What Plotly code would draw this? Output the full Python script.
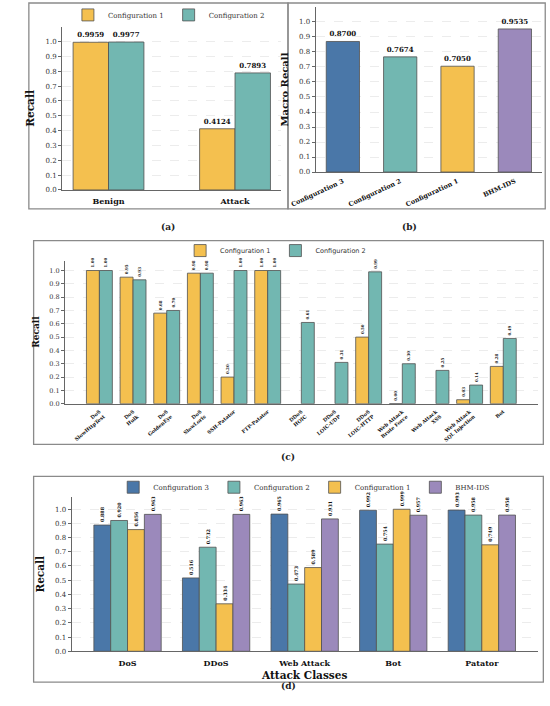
import plotly.graph_objects as go

# ---- data ----
a_classes = ["Benign", "Attack"]
a_cfg1 = [0.9959, 0.4124]
a_cfg2 = [0.9977, 0.7893]

b_models = ["Configuration 3", "Configuration 2", "Configuration 1", "BHM-IDS"]
b_macro = [0.8700, 0.7674, 0.7050, 0.9535]

c_classes = ["DoS<br>SlowHttpTest", "DoS<br>Hulk", "DoS<br>GoldenEye", "DoS<br>SlowLoris",
             "SSH-Patator", "FTP-Patator", "DDoS<br>HOIC", "DDoS<br>LOIC-UDP",
             "DDoS<br>LOIC-HTTP", "Web Attack<br>Brute Force", "Web Attack<br>XSS",
             "Web Attack<br>SQL Injection", "Bot"]
c_cfg1 = [1.00, 0.95, 0.68, 0.98, 0.20, 1.00, None, None, 0.50, 0.00, None, 0.03, 0.28]
c_cfg2 = [1.00, 0.93, 0.70, 0.98, 1.00, 1.00, 0.61, 0.31, 0.99, 0.30, 0.25, 0.14, 0.49]

d_classes = ["DoS", "DDoS", "Web Attack", "Bot", "Patator"]
d_cfg3 = [0.888, 0.516, 0.965, 0.992, 0.993]
d_cfg2 = [0.920, 0.732, 0.473, 0.754, 0.958]
d_cfg1 = [0.856, 0.334, 0.589, 0.999, 0.749]
d_bhm = [0.963, 0.963, 0.931, 0.957, 0.958]

y_ticks = [0.0, 0.1, 0.2, 0.3, 0.4, 0.5, 0.6, 0.7, 0.8, 0.9, 1.0]

COL3 = "#4a77a8"
COL2 = "#72b7b1"
COL1 = "#f4c04f"
COLB = "#9b89bb"
EDGE = "#505050"
SERIF = "DejaVu Serif"

W, H = 550, 706
def px(x): return x / W
def py(y): return 1 - y / H

fig = go.Figure()

def bars(x, y, name, color, xa, ya, width, offset, size, angle=0, legend=None, fmt="{:.4f}"):
    txt = ["" if v is None else "<b>" + fmt.format(v) + "</b>" for v in y]
    fig.add_trace(go.Bar(
        x=x, y=y, name=name, xaxis=xa, yaxis=ya, width=width, offset=offset,
        marker=dict(color=color, line=dict(color=EDGE, width=0.8)),
        text=txt, textposition="outside", textangle=angle, constraintext="none",
        cliponaxis=False, textfont=dict(family=SERIF, size=size, color="#111"),
        showlegend=legend is not None, legend=legend or "legend",
    ))

# (a)
bars(a_classes, a_cfg1, "Configuration 1", COL1, "x", "y", 0.28, -0.28, 7, legend="legend")
bars(a_classes, a_cfg2, "Configuration 2", COL2, "x", "y", 0.28, 0.0, 7, legend="legend")
# (b)
bars(b_models, b_macro, "macro", [COL3, COL2, COL1, COLB], "x2", "y2", 0.58, -0.29, 7)
# (c)
bars(c_classes, c_cfg1, "Configuration 1", COL1, "x3", "y3", 0.385, -0.385, 4, -90, "legend2", "{:.2f}")
bars(c_classes, c_cfg2, "Configuration 2", COL2, "x3", "y3", 0.385, 0.0, 4, -90, "legend2", "{:.2f}")
# (d)
dw = 0.19
for i, (vals, nm, col) in enumerate([(d_cfg3, "Configuration 3", COL3), (d_cfg2, "Configuration 2", COL2),
                                     (d_cfg1, "Configuration 1", COL1), (d_bhm, "BHM-IDS", COLB)]):
    bars(d_classes, vals, nm, col, "x4", "y4", dw, -2 * dw + i * dw, 4.8, -90, "legend3", "{:.3f}")

def xax(dom, rng, size, angle=0, standoff=2):
    return dict(domain=dom, range=rng, type="category", showline=True, linecolor="#666",
                linewidth=1.2, ticks="", showgrid=False, tickangle=angle, zeroline=False,
                ticklabelstandoff=standoff,
                tickfont=dict(family=SERIF, size=size, color="#111"))

def yax(dom, top, title, tsize, size, standoff, anchor):
    return dict(domain=dom, range=[0, top], anchor=anchor, tickvals=y_ticks, tickformat=".1f",
                showline=True, linecolor="#666", linewidth=1.2, ticks="outside", ticklen=3,
                tickcolor="#666", showgrid=True, gridcolor="#ececec", griddash="dash",
                gridwidth=0.6, zeroline=False,
                tickfont=dict(family=SERIF, size=size, color="#333"),
                title=dict(text="<b>" + title + "</b>", standoff=standoff,
                           font=dict(family=SERIF, size=tsize, color="#111")))

fig.update_layout(
    width=W, height=H, margin=dict(l=0, r=0, t=0, b=0),
    paper_bgcolor="white", plot_bgcolor="white", barmode="overlay",
    xaxis=dict(xax([px(38), px(268)], [-0.366, 1.366], 8, 0, 3), anchor="y",
               tickvals=a_classes, ticktext=["<b>" + c + "</b>" for c in a_classes]),
    yaxis=yax([py(191), py(27)], 1.1, "Recall", 10.5, 7, 8, "x"),
    xaxis2=dict(xax([px(304), px(542)], [-0.475, 3.48], 6.5, -25), anchor="y2",
                tickvals=b_models, ticktext=["<b>" + c + "</b>" for c in b_models]),
    yaxis2=yax([py(173), py(7)], 1.1, "Macro Recall", 10, 7, 8, "x2"),
    xaxis3=dict(xax([px(41), px(537)], [-1.02, 13.02], 5, -40), anchor="y3",
                tickvals=c_classes, ticktext=["<b>" + c + "</b>" for c in c_classes]),
    yaxis3=yax([py(406), py(262)], 1.075, "Recall", 9, 6.5, 8, "x3"),
    xaxis4=dict(xax([px(48), px(537)], [-0.63, 4.63], 8, 0, 4), anchor="y4",
                tickvals=d_classes, ticktext=["<b>" + c + "</b>" for c in d_classes],
                title=dict(text="<b>Attack Classes</b>", standoff=4,
                           font=dict(family=SERIF, size=10.5, color="#111"))),
    yaxis4=yax([py(655), py(500)], 1.084, "Recall", 10.5, 7, 8, "x4"),
    legend=dict(orientation="h", x=px(150), y=py(15), xanchor="center", yanchor="middle",
                font=dict(family=SERIF, size=7, color="#333"), bgcolor="rgba(0,0,0,0)"),
    legend2=dict(orientation="h", x=px(262), y=py(252), xanchor="center", yanchor="middle",
                 font=dict(family="DejaVu Sans", size=6.5, color="#333"), bgcolor="rgba(0,0,0,0)"),
    legend3=dict(orientation="h", x=px(292), y=py(490), xanchor="center", yanchor="middle",
                 font=dict(family=SERIF, size=7, color="#333"), bgcolor="rgba(0,0,0,0)"),
)

# panel frames
for x0, y0, x1, y1 in [(3, 3, 275, 210), (275, 3, 545, 210), (8, 242, 543, 447), (8, 479, 543, 686)]:
    fig.add_shape(type="rect", xref="paper", yref="paper", x0=px(x0), x1=px(x1),
                  y0=py(y1), y1=py(y0), line=dict(color="#8a8a8a", width=1.3))

# captions
for lab, x, y in [("(a)", 140, 221), ("(b)", 413, 221), ("(c)", 275, 460), ("(d)", 275, 697)]:
    fig.add_annotation(text="<b>" + lab + "</b>", xref="paper", yref="paper", x=px(x), y=py(y),
                       showarrow=False, font=dict(family=SERIF, size=9, color="#222"))

fig.write_html("out.html", config={"displayModeBar": False},
               post_script="document.body.style.margin='0px';document.body.style.overflow='hidden';")
